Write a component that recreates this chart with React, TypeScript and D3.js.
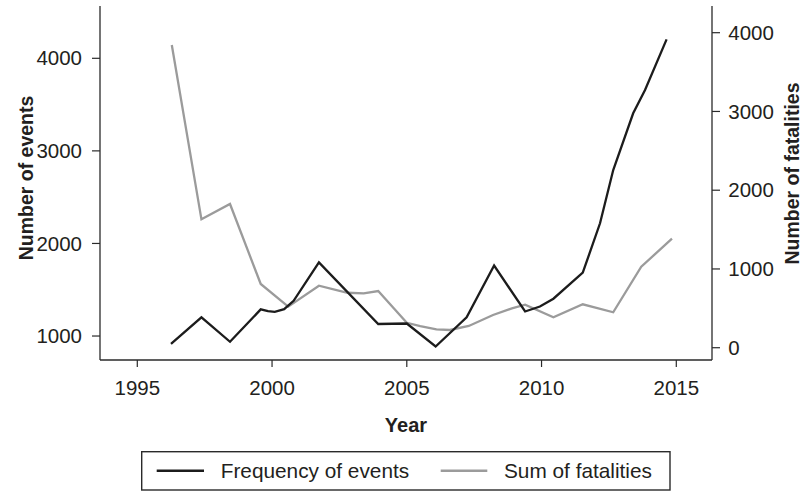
import React, { useEffect } from "react";
import * as d3 from "d3";

// Frequency of events (left axis) — [year, value]
const eventYears = [1996.25, 1997.38, 1998.44, 1999.58, 1999.85, 2000.1, 2000.45, 2000.8, 2001.74, 2003.94, 2005.0, 2006.07, 2007.22, 2008.24, 2009.39, 2009.94, 2010.44, 2011.53, 2012.17, 2012.66, 2013.4, 2013.84, 2014.64];
const eventValues = [914, 1202, 938, 1288, 1270, 1262, 1290, 1380, 1796, 1130, 1135, 887, 1202, 1762, 1265, 1319, 1403, 1684, 2218, 2793, 3406, 3658, 4205];

// Sum of fatalities (right axis)
const fatalYears = [1996.28, 1997.38, 1998.44, 1999.58, 2000.6, 2001.74, 2002.8, 2003.4, 2003.94, 2005.0, 2005.5, 2006.1, 2006.6, 2007.3, 2008.2, 2008.9, 2009.39, 2010.44, 2011.53, 2012.66, 2013.7, 2014.84];
const fatalValues = [3844, 1630, 1825, 809, 521, 787, 698, 691, 720, 317, 275, 234, 225, 276, 415, 500, 546, 386, 551, 450, 1029, 1384];

const xTicks = [1995, 2000, 2005, 2010, 2015];
const leftTicks = [1000, 2000, 3000, 4000];
const rightTicks = [0, 1000, 2000, 3000, 4000];

const seriesNames = ["Frequency of events", "Sum of fatalities"];
const xTitle = "Year";
const leftTitle = "Number of events";
const rightTitle = "Number of fatalities";

const W = 803;
const H = 492;
const L = 100, R = 712, T = 6, B = 360;

const FONT = "'Liberation Sans', Arial, Helvetica, sans-serif";
const TEXT = "#231f20";
const AXIS = "#2a2a2a";
const C_EVENTS = "#1c1c1c";
const C_FATAL = "#9b9b9b";

export default function App() {
  useEffect(() => {
    document.body.style.margin = "0";
  }, []);

  const x = d3.scaleLinear().domain([1993.616, 2016.325]).range([L, R]);
  const yL = d3.scaleLinear().domain([741, 4565]).range([B, T]);
  const yR = d3.scaleLinear().domain([-156, 4339]).range([B, T]);

  const evData = eventYears.map((yr, i) => [yr, eventValues[i]] as [number, number]);
  const faData = fatalYears.map((yr, i) => [yr, fatalValues[i]] as [number, number]);

  const lineL = d3.line<[number, number]>().x((d) => x(d[0])).y((d) => yL(d[1]));
  const lineR = d3.line<[number, number]>().x((d) => x(d[0])).y((d) => yR(d[1]));

  const tickFont = 20.5;

  return (
    <svg width={W} height={H} style={{ display: "block", background: "#fff" }} fontFamily={FONT}>
      {/* data lines */}
      <path d={lineR(faData) || ""} fill="none" stroke={C_FATAL} strokeWidth={2.3} strokeLinejoin="miter" />
      <path d={lineL(evData) || ""} fill="none" stroke={C_EVENTS} strokeWidth={2.3} strokeLinejoin="miter" />

      {/* axes lines */}
      <line x1={L} x2={L} y1={T} y2={B} stroke={AXIS} strokeWidth={1.3} />
      <line x1={R} x2={R} y1={T} y2={B} stroke={AXIS} strokeWidth={1.3} />
      <line x1={L} x2={R} y1={B} y2={B} stroke={AXIS} strokeWidth={1.3} />

      {/* bottom ticks */}
      {xTicks.map((t) => (
        <g key={"x" + t}>
          <line x1={x(t)} x2={x(t)} y1={B} y2={B + 7} stroke={AXIS} strokeWidth={1.2} />
          <text x={x(t)} y={394.5} textAnchor="middle" fontSize={tickFont} fill={TEXT}>
            {t}
          </text>
        </g>
      ))}

      {/* left ticks */}
      {leftTicks.map((t) => (
        <g key={"l" + t}>
          <line x1={L - 8} x2={L} y1={yL(t)} y2={yL(t)} stroke={AXIS} strokeWidth={1.2} />
          <text x={82} y={yL(t)} dy="0.35em" textAnchor="end" fontSize={tickFont} fill={TEXT}>
            {t}
          </text>
        </g>
      ))}

      {/* right ticks */}
      {rightTicks.map((t) => (
        <g key={"r" + t}>
          <line x1={R} x2={R + 8} y1={yR(t)} y2={yR(t)} stroke={AXIS} strokeWidth={1.2} />
          <text x={728.3} y={yR(t)} dy="0.35em" textAnchor="start" fontSize={tickFont} fill={TEXT}>
            {t}
          </text>
        </g>
      ))}

      {/* axis titles */}
      <text x={406} y={431.7} textAnchor="middle" fontSize={20} fontWeight="bold" fill={TEXT}>
        {xTitle}
      </text>
      <text
        transform="translate(33.3,178) rotate(-90)"
        textAnchor="middle"
        fontSize={19.5}
        fontWeight="bold"
        fill={TEXT}
      >
        {leftTitle}
      </text>
      <text
        transform="translate(798.5,173.5) rotate(-90)"
        textAnchor="middle"
        fontSize={19.5}
        fontWeight="bold"
        fill={TEXT}
      >
        {rightTitle}
      </text>

      {/* legend */}
      <rect x={141.7} y={451.7} width={528.3} height={38.3} fill="none" stroke={AXIS} strokeWidth={1.4} />
      <line x1={156.7} x2={204} y1={470.7} y2={470.7} stroke={C_EVENTS} strokeWidth={2.5} />
      <text x={220.7} y={478.3} fontSize={20.8} fill={TEXT}>
        {seriesNames[0]}
      </text>
      <line x1={440.7} x2={487.3} y1={470.7} y2={470.7} stroke={C_FATAL} strokeWidth={2.5} />
      <text x={504} y={478.3} fontSize={20.8} fill={TEXT}>
        {seriesNames[1]}
      </text>
    </svg>
  );
}
